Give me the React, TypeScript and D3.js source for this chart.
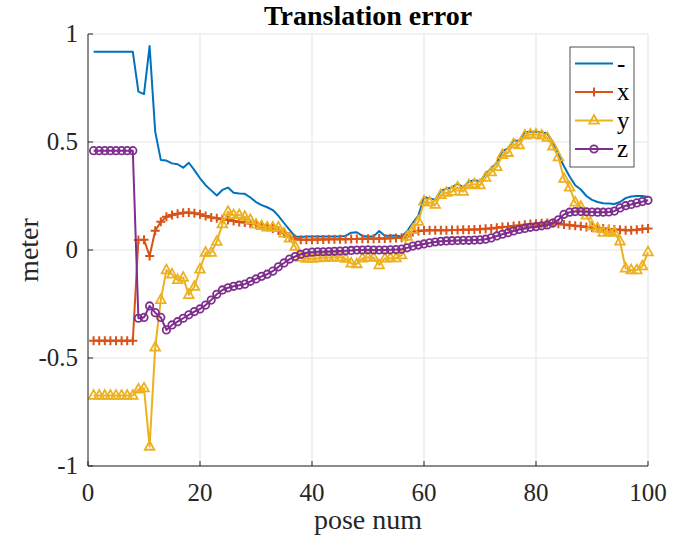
import React from 'react';
import * as d3 from 'd3';

const poseNums: number[] = Array.from({ length: 100 }, (_, i) => i + 1);

const normErr: number[] = [
  0.918, 0.918, 0.918, 0.918, 0.918, 0.918, 0.918, 0.918, 0.733, 0.722,
  0.944, 0.548, 0.417, 0.414, 0.401, 0.397, 0.381, 0.404, 0.370, 0.332,
  0.300, 0.276, 0.252, 0.278, 0.289, 0.265, 0.262, 0.260, 0.243, 0.222,
  0.208, 0.198, 0.185, 0.158, 0.125, 0.093, 0.062, 0.060, 0.063, 0.063,
  0.062, 0.062, 0.062, 0.062, 0.062, 0.065, 0.080, 0.082, 0.065, 0.062,
  0.063, 0.088, 0.066, 0.066, 0.067, 0.062, 0.088, 0.126, 0.159, 0.244,
  0.240, 0.232, 0.274, 0.284, 0.289, 0.308, 0.289, 0.317, 0.323, 0.318,
  0.353, 0.378, 0.404, 0.458, 0.470, 0.508, 0.505, 0.545, 0.548, 0.548,
  0.545, 0.540, 0.500, 0.440, 0.388, 0.340, 0.300, 0.280, 0.250, 0.232,
  0.222, 0.216, 0.215, 0.213, 0.222, 0.240, 0.248, 0.250, 0.250, 0.245,
];

const errX: number[] = [
  -0.42, -0.42, -0.42, -0.42, -0.42, -0.42, -0.42, -0.42, 0.046, 0.048,
  -0.028, 0.089, 0.131, 0.154, 0.162, 0.168, 0.172, 0.174, 0.170, 0.166,
  0.157, 0.151, 0.147, 0.142, 0.139, 0.134, 0.130, 0.127, 0.123, 0.119,
  0.114, 0.108, 0.099, 0.090, 0.077, 0.062, 0.051, 0.047, 0.047, 0.048,
  0.049, 0.049, 0.050, 0.050, 0.050, 0.050, 0.051, 0.051, 0.052, 0.052,
  0.052, 0.053, 0.053, 0.054, 0.055, 0.057, 0.062, 0.083, 0.088, 0.090,
  0.091, 0.091, 0.092, 0.092, 0.093, 0.093, 0.094, 0.094, 0.095, 0.096,
  0.098, 0.100, 0.103, 0.106, 0.108, 0.111, 0.114, 0.117, 0.120, 0.122,
  0.124, 0.125, 0.125, 0.122, 0.118, 0.115, 0.112, 0.110, 0.107, 0.104,
  0.101, 0.099, 0.097, 0.095, 0.094, 0.092, 0.092, 0.094, 0.097, 0.100,
];

const errY: number[] = [
  -0.674, -0.674, -0.674, -0.674, -0.674, -0.674, -0.674, -0.674, -0.645, -0.640,
  -0.910, -0.451, -0.231, -0.093, -0.113, -0.139, -0.128, -0.208, -0.170, -0.090,
  -0.012, -0.012, 0.039, 0.120, 0.177, 0.162, 0.162, 0.154, 0.139, 0.118,
  0.111, 0.105, 0.105, 0.105, 0.077, 0.054, 0.015, -0.035, -0.040, -0.040,
  -0.038, -0.036, -0.035, -0.034, -0.034, -0.040, -0.062, -0.065, -0.039, -0.034,
  -0.035, -0.070, -0.039, -0.038, -0.038, -0.024, 0.062, 0.093, 0.131, 0.225,
  0.220, 0.210, 0.255, 0.265, 0.270, 0.290, 0.270, 0.300, 0.305, 0.300,
  0.335, 0.360, 0.385, 0.440, 0.450, 0.490, 0.485, 0.530, 0.535, 0.535,
  0.530, 0.520, 0.480, 0.430, 0.330, 0.290, 0.220, 0.200, 0.160, 0.110,
  0.100, 0.080, 0.085, 0.080, 0.040, -0.085, -0.093, -0.093, -0.075, -0.010,
];

const errZ: number[] = [
  0.46, 0.46, 0.46, 0.46, 0.46, 0.46, 0.46, 0.46, -0.316, -0.312,
  -0.259, -0.290, -0.312, -0.370, -0.347, -0.332, -0.316, -0.300, -0.285, -0.273,
  -0.255, -0.232, -0.205, -0.185, -0.175, -0.168, -0.163, -0.158, -0.145, -0.134,
  -0.122, -0.112, -0.098, -0.078, -0.060, -0.042, -0.030, -0.020, -0.013, -0.010,
  -0.008, -0.008, -0.007, -0.006, -0.005, -0.004, -0.002, 0.000, 0.000, 0.001,
  0.000, 0.000, 0.000, 0.001, 0.002, 0.004, 0.010, 0.018, 0.023, 0.028,
  0.033, 0.037, 0.040, 0.042, 0.043, 0.044, 0.045, 0.045, 0.046, 0.047,
  0.050, 0.056, 0.065, 0.073, 0.080, 0.088, 0.095, 0.100, 0.105, 0.108,
  0.112, 0.116, 0.125, 0.140, 0.165, 0.175, 0.178, 0.178, 0.177, 0.176,
  0.175, 0.175, 0.176, 0.180, 0.195, 0.205, 0.211, 0.218, 0.224, 0.230,
];

const seriesNames: string[] = ['-', 'x', 'y', 'z'];
const seriesColors: string[] = ['#0072BD', '#D95319', '#EDB120', '#7E2F8E'];
const seriesMarkers: string[] = ['none', 'plus', 'triangle', 'circle'];
const xTicks: number[] = [0, 20, 40, 60, 80, 100];
const yTicks: number[] = [-1, -0.5, 0, 0.5, 1];

const W = 684;
const H = 537;
const plot = { left: 88, right: 648, top: 34, bottom: 466 };
const FONT = '"Liberation Serif", "Times New Roman", serif';

function Marker({ kind, x, y, color }: { kind: string; x: number; y: number; color: string }) {
  if (kind === 'plus') {
    return (
      <path
        d={`M${x - 4.5},${y}H${x + 4.5}M${x},${y - 4.5}V${y + 4.5}`}
        stroke={color}
        strokeWidth={2}
        fill="none"
      />
    );
  }
  if (kind === 'triangle') {
    return (
      <path
        d={`M${x},${y - 5.5}L${x + 4.8},${y + 3.2}L${x - 4.8},${y + 3.2}Z`}
        stroke={color}
        strokeWidth={1.8}
        fill="none"
        strokeLinejoin="miter"
      />
    );
  }
  if (kind === 'circle') {
    return <circle cx={x} cy={y} r={3.7} stroke={color} strokeWidth={1.8} fill="none" />;
  }
  return null;
}

export default function App() {
  const xs = d3.scaleLinear().domain([0, 100]).range([plot.left, plot.right]);
  const ys = d3.scaleLinear().domain([-1, 1]).range([plot.bottom, plot.top]);
  const seriesData = [normErr, errX, errY, errZ];
  const line = d3
    .line<number>()
    .x((_, i) => xs(poseNums[i]))
    .y((d) => ys(d));

  const legend = { x: 570, y: 47, w: 64, h: 120 };
  const rowY = (i: number) => legend.y + 16.5 + i * 28.5;

  return (
    <svg width={W} height={H} style={{ display: 'block', position: 'absolute', left: 0, top: 0 }}>
      <rect x={0} y={0} width={W} height={H} fill="#ffffff" />
      {xTicks.map((t) => (
        <line key={'gx' + t} x1={xs(t)} x2={xs(t)} y1={plot.top} y2={plot.bottom} stroke="#e3e3e3" strokeWidth={1} />
      ))}
      {yTicks.map((t) => (
        <line key={'gy' + t} x1={plot.left} x2={plot.right} y1={ys(t)} y2={ys(t)} stroke="#e3e3e3" strokeWidth={1} />
      ))}
      {seriesData.map((data, si) => (
        <g key={'s' + si}>
          <path d={line(data) || ''} fill="none" stroke={seriesColors[si]} strokeWidth={2} strokeLinejoin="round" />
          {seriesMarkers[si] !== 'none' &&
            data.map((v, i) => (
              <Marker key={i} kind={seriesMarkers[si]} x={xs(poseNums[i])} y={ys(v)} color={seriesColors[si]} />
            ))}
        </g>
      ))}
      <line x1={plot.left} x2={plot.left} y1={plot.top} y2={plot.bottom} stroke="#262626" strokeWidth={1} />
      <line x1={plot.left} x2={plot.right} y1={plot.bottom} y2={plot.bottom} stroke="#262626" strokeWidth={1} />
      {xTicks.map((t) => (
        <g key={'xt' + t}>
          <line x1={xs(t)} x2={xs(t)} y1={plot.bottom} y2={plot.bottom - 5} stroke="#262626" strokeWidth={1} />
          <text x={xs(t)} y={plot.bottom + 35} textAnchor="middle" fontFamily={FONT} fontSize={25} fill="#262626">
            {t}
          </text>
        </g>
      ))}
      {yTicks.map((t) => (
        <g key={'yt' + t}>
          <line x1={plot.left} x2={plot.left + 5} y1={ys(t)} y2={ys(t)} stroke="#262626" strokeWidth={1} />
          <text x={plot.left - 10} y={ys(t) + 8} textAnchor="end" fontFamily={FONT} fontSize={25} fill="#262626">
            {t}
          </text>
        </g>
      ))}
      <text x={(plot.left + plot.right) / 2} y={25} textAnchor="middle" fontFamily={FONT} fontSize={28} fontWeight="bold" fill="#000">
        Translation error
      </text>
      <text x={(plot.left + plot.right) / 2} y={529} textAnchor="middle" fontFamily={FONT} fontSize={28} fill="#262626">
        pose num
      </text>
      <text
        transform={`translate(38,${(plot.top + plot.bottom) / 2}) rotate(-90)`}
        textAnchor="middle"
        fontFamily={FONT}
        fontSize={28}
        fill="#262626"
      >
        meter
      </text>
      <rect x={legend.x} y={legend.y} width={legend.w} height={legend.h} fill="#ffffff" stroke="#262626" strokeWidth={0.8} />
      {seriesNames.map((name, i) => (
        <g key={'lg' + i}>
          <line x1={legend.x + 5} x2={legend.x + 43} y1={rowY(i)} y2={rowY(i)} stroke={seriesColors[i]} strokeWidth={2} />
          <Marker kind={seriesMarkers[i]} x={legend.x + 24} y={rowY(i)} color={seriesColors[i]} />
          <text x={legend.x + 47} y={rowY(i) + 8} fontFamily={FONT} fontSize={25} fill="#000">
            {name}
          </text>
        </g>
      ))}
    </svg>
  );
}
